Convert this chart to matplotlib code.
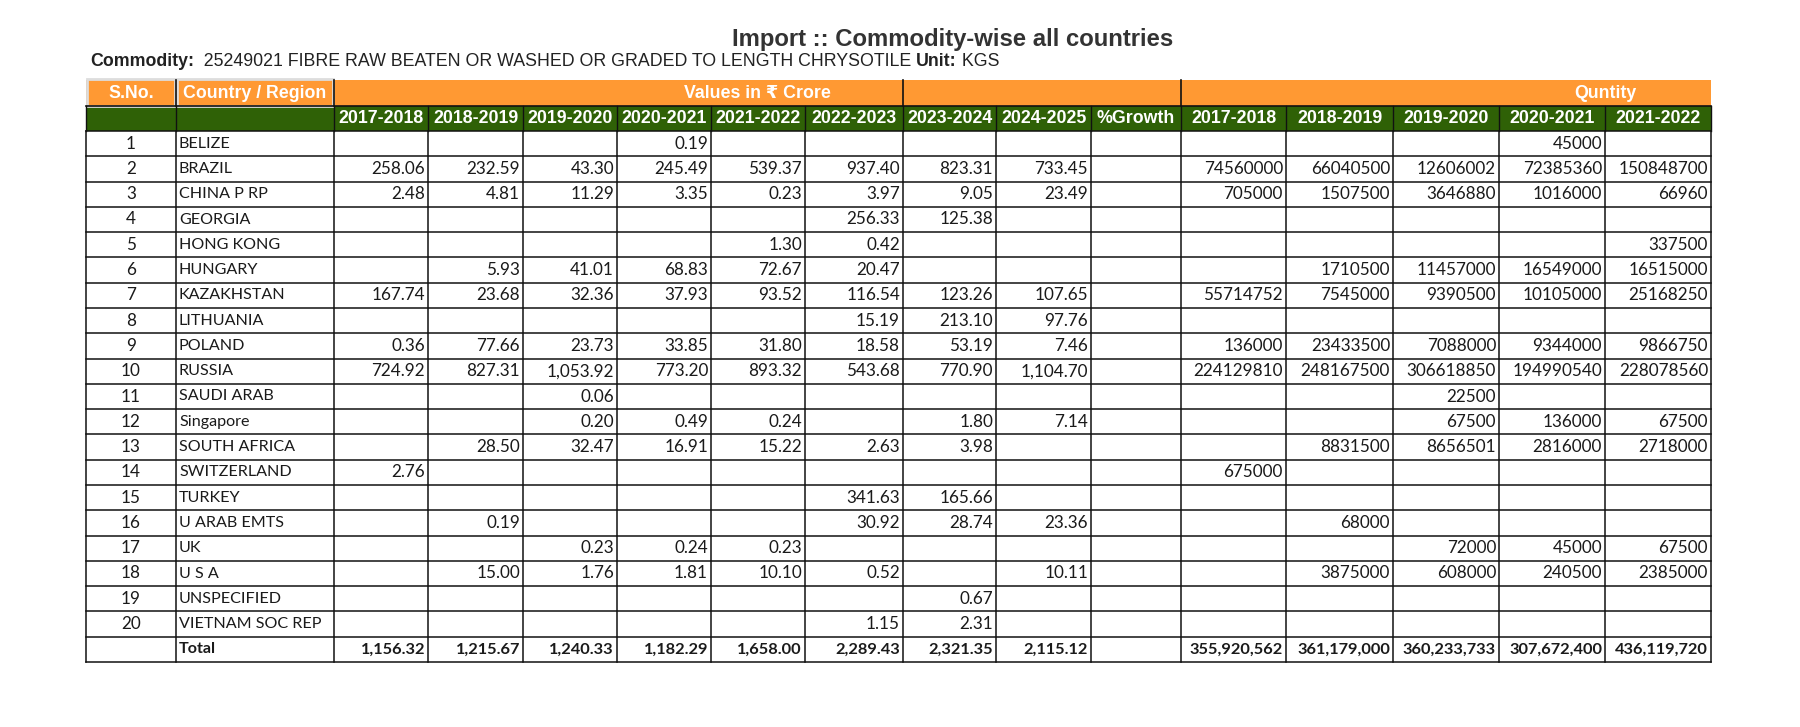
import matplotlib.pyplot as plt
from matplotlib.patches import Rectangle

N = None

# table content
countries = ['BELIZE', 'BRAZIL', 'CHINA P RP', 'GEORGIA', 'HONG KONG', 'HUNGARY',
             'KAZAKHSTAN', 'LITHUANIA', 'POLAND', 'RUSSIA', 'SAUDI ARAB', 'Singapore',
             'SOUTH AFRICA', 'SWITZERLAND', 'TURKEY', 'U ARAB EMTS', 'UK', 'U S A',
             'UNSPECIFIED', 'VIETNAM SOC REP']
years = ['2017-2018', '2018-2019', '2019-2020', '2020-2021', '2021-2022',
         '2022-2023', '2023-2024', '2024-2025']
qty_years = ['2017-2018', '2018-2019', '2019-2020', '2020-2021', '2021-2022']

# values in Rs crore, one list per year
val_2017 = [N, 258.06, 2.48, N, N, N, 167.74, N, 0.36, 724.92, N, N, N, 2.76, N, N, N, N, N, N]
val_2018 = [N, 232.59, 4.81, N, N, 5.93, 23.68, N, 77.66, 827.31, N, N, 28.50, N, N, 0.19, N, 15.00, N, N]
val_2019 = [N, 43.30, 11.29, N, N, 41.01, 32.36, N, 23.73, 1053.92, 0.06, 0.20, 32.47, N, N, N, 0.23, 1.76, N, N]
val_2020 = [0.19, 245.49, 3.35, N, N, 68.83, 37.93, N, 33.85, 773.20, N, 0.49, 16.91, N, N, N, 0.24, 1.81, N, N]
val_2021 = [N, 539.37, 0.23, N, 1.30, 72.67, 93.52, N, 31.80, 893.32, N, 0.24, 15.22, N, N, N, 0.23, 10.10, N, N]
val_2022 = [N, 937.40, 3.97, 256.33, 0.42, 20.47, 116.54, 15.19, 18.58, 543.68, N, N, 2.63, N, 341.63, 30.92, N, 0.52, N, 1.15]
val_2023 = [N, 823.31, 9.05, 125.38, N, N, 123.26, 213.10, 53.19, 770.90, N, 1.80, 3.98, N, 165.66, 28.74, N, N, 0.67, 2.31]
val_2024 = [N, 733.45, 23.49, N, N, N, 107.65, 97.76, 7.46, 1104.70, N, 7.14, N, N, N, 23.36, N, 10.11, N, N]

# quantities in KGS
qty_2017 = [N, 74560000, 705000, N, N, N, 55714752, N, 136000, 224129810, N, N, N, 675000, N, N, N, N, N, N]
qty_2018 = [N, 66040500, 1507500, N, N, 1710500, 7545000, N, 23433500, 248167500, N, N, 8831500, N, N, 68000, N, 3875000, N, N]
qty_2019 = [N, 12606002, 3646880, N, N, 11457000, 9390500, N, 7088000, 306618850, 22500, 67500, 8656501, N, N, N, 72000, 608000, N, N]
qty_2020 = [45000, 72385360, 1016000, N, N, 16549000, 10105000, N, 9344000, 194990540, N, 136000, 2816000, N, N, N, 45000, 240500, N, N]
qty_2021 = [N, 150848700, 66960, N, 337500, 16515000, 25168250, N, 9866750, 228078560, N, 67500, 2718000, N, N, N, 67500, 2385000, N, N]

val_cols = [val_2017, val_2018, val_2019, val_2020, val_2021, val_2022, val_2023, val_2024]
qty_cols = [qty_2017, qty_2018, qty_2019, qty_2020, qty_2021]

ORANGE = '#FF9933'
GREEN = '#2F6106'
HEAD = ['Liberation Sans', 'DejaVu Sans']
BODY = ['Lato', 'DejaVu Sans']

fig = plt.figure(figsize=(18, 7.27), dpi=100)
ax = fig.add_axes([0, 0, 1, 1])
ax.set_xlim(0, 1800)
ax.set_ylim(727, 0)
ax.axis('off')

# column edges and row geometry (pixels)
col_x = [86, 176, 334, 428, 523, 617, 711, 805, 903, 996, 1091, 1181, 1286, 1393, 1499, 1605, 1711]
y_orange, y_green, y_data, y_bot = 80, 106, 131, 662
n_rows = len(countries) + 1
row_h = (y_bot - y_data) / n_rows

# title + subtitle
ax.text(953, 46, 'Import :: Commodity-wise all countries', ha='center', va='baseline',
        fontsize=17.2, fontweight='bold', color='#333333', family=HEAD)

fig.canvas.draw()
renderer = fig.canvas.get_renderer()
x = 90
for txt, wt in [('Commodity:', 'bold'),
                ('  25249021 FIBRE RAW BEATEN OR WASHED OR GRADED TO LENGTH CHRYSOTILE ', 'normal'),
                ('Unit:', 'bold'), (' KGS', 'normal')]:
    t = ax.text(x, 66, txt, ha='left', va='baseline', fontsize=12.8, fontweight=wt,
                color='#222222', family=HEAD)
    x += t.get_window_extent(renderer).width

# header bands
ax.add_patch(Rectangle((col_x[0], y_orange), col_x[-1] - col_x[0], y_green - y_orange,
                       facecolor=ORANGE, edgecolor='none'))
ax.add_patch(Rectangle((col_x[0], y_green), col_x[-1] - col_x[0], y_data - y_green,
                       facecolor=GREEN, edgecolor='none'))
for i in range(2):
    ax.add_patch(Rectangle((col_x[i] + 1, y_orange - 1), col_x[i + 1] - col_x[i] - 2,
                           y_green - y_orange + 1, facecolor='none', edgecolor='#DDDDDD', lw=2))

# orange row text and separators
hk = dict(color='white', fontweight='bold', fontsize=12.8, family=HEAD, va='center')
yo = (y_orange + y_green) / 2
ax.text((col_x[0] + col_x[1]) / 2, yo, 'S.No.', ha='center', **hk)
ax.text((col_x[1] + col_x[2]) / 2, yo, 'Country / Region', ha='center', **hk)
ax.text((col_x[2] + col_x[11]) / 2, yo, 'Values in \u20b9 Crore', ha='center', **hk)
ax.text((col_x[14] + col_x[16]) / 2, yo, 'Quntity', ha='center', **hk)
for xe in [col_x[1], col_x[2], col_x[8], col_x[11]]:
    ax.plot([xe, xe], [y_orange, y_green], color='#111111', lw=1.2)

# green row text
yg = (y_green + y_data) / 2
green_labels = years + ['%Growth'] + qty_years
for j, lab in enumerate(green_labels):
    ax.text((col_x[j + 2] + col_x[j + 3]) / 2, yg, lab, ha='center', **hk)
for xe in col_x:
    ax.plot([xe, xe], [y_green, y_data], color='#111111', lw=1.0)
ax.plot([col_x[0], col_x[-1]], [y_green, y_green], color='#111111', lw=1.2)

# body cells
bk = dict(family=BODY, va='center', color='#1a1a1a')
num_fs, name_fs = 12.3, 11.6
for r, name in enumerate(countries):
    yc = y_data + (r + 0.5) * row_h
    ax.text((col_x[0] + col_x[1]) / 2, yc, str(r + 1), ha='center', fontsize=num_fs, **bk)
    ax.text(col_x[1] + 3, yc, name, ha='left', fontsize=name_fs, **bk)
    for j, col in enumerate(val_cols):
        if col[r] is not None:
            ax.text(col_x[j + 3] - 3, yc, f'{col[r]:,.2f}', ha='right', fontsize=num_fs, **bk)
    for j, col in enumerate(qty_cols):
        if col[r] is not None:
            ax.text(col_x[j + 12] - 3, yc, f'{col[r]}', ha='right', fontsize=num_fs, **bk)

# total row
yt = y_data + (n_rows - 0.5) * row_h
ax.text(col_x[1] + 3, yt, 'Total', ha='left', fontweight='bold', fontsize=name_fs, **bk)
for j, col in enumerate(val_cols):
    tot = sum(v for v in col if v is not None)
    ax.text(col_x[j + 3] - 3, yt, f'{tot:,.2f}', ha='right', fontweight='bold',
            fontsize=11.8, **bk)
for j, col in enumerate(qty_cols):
    tot = sum(v for v in col if v is not None)
    ax.text(col_x[j + 12] - 3, yt, f'{tot:,}', ha='right', fontweight='bold',
            fontsize=11.8, **bk)

# grid
for r in range(n_rows + 1):
    yl = y_data + r * row_h
    ax.plot([col_x[0], col_x[-1]], [yl, yl], color='#111111', lw=1.1)
for xe in col_x:
    ax.plot([xe, xe], [y_data, y_bot], color='#111111', lw=1.1)

fig.savefig('out.png', dpi=100, facecolor='white')
